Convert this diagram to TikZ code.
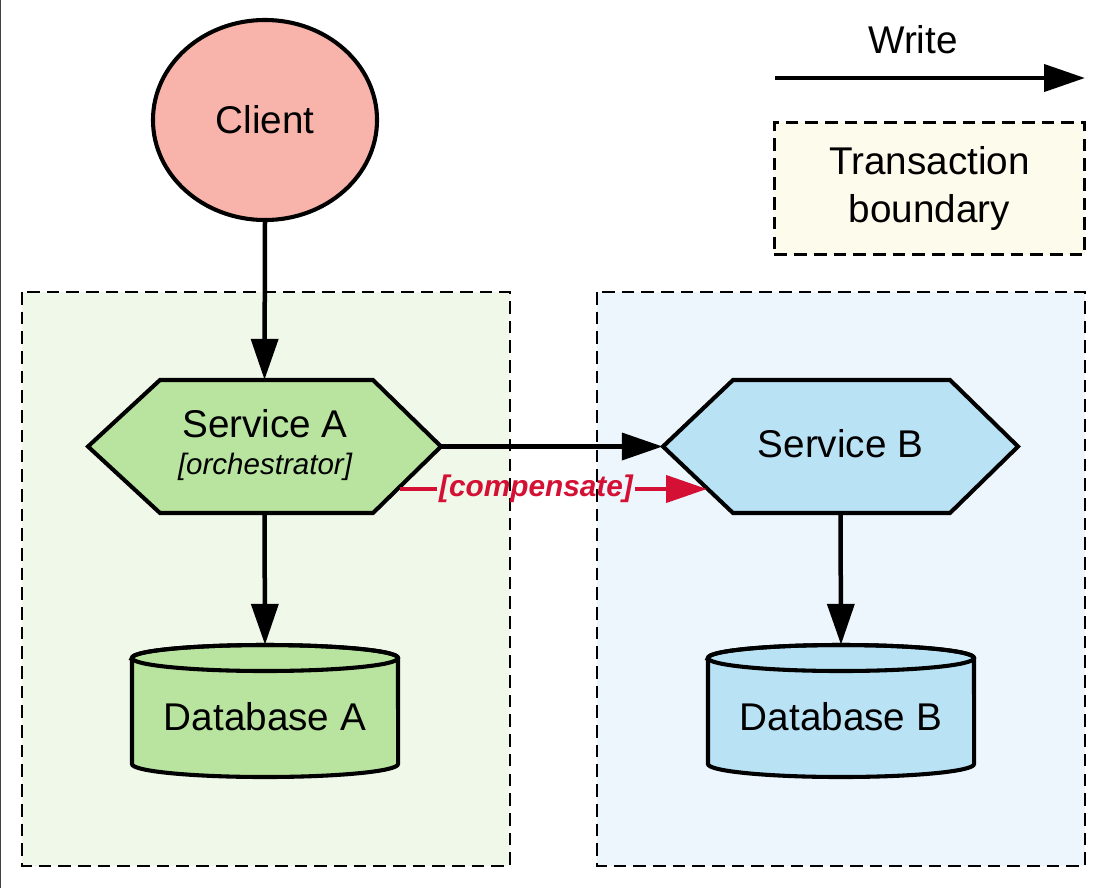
\documentclass[tikz,border=0pt]{standalone}
\usepackage{fontspec}
\setmainfont{Liberation Sans}
\usetikzlibrary{arrows.meta,shapes.geometric}
\definecolor{clientfill}{RGB}{248,180,170}
\definecolor{greenfill}{RGB}{185,228,160}
\definecolor{bluefill}{RGB}{185,226,245}
\definecolor{greenbg}{RGB}{240,248,234}
\definecolor{bluebg}{RGB}{237,246,253}
\definecolor{creambg}{RGB}{253,251,236}
\definecolor{compred}{RGB}{212,16,52}
\tikzset{
  bigtext/.style={font=\fontsize{27.5}{34}\selectfont},
  smalltext/.style={font=\fontsize{21}{25}\selectfont\itshape},
  tbox/.style={draw=black, line width=1.8pt, dash pattern=on 9pt off 5pt},
  shapeline/.style={draw=black, line width=2.9pt, line join=miter},
  write/.style={line width=3.2pt, -{Triangle[length=29pt,width=19pt]}},
  comp/.style={draw=compred, line width=3.2pt},
  textnode/.style={inner sep=0pt, outer sep=0pt},
}
\begin{document}
\begin{tikzpicture}[x=0.025cm, y=-0.025cm]
\useasboundingbox (0,0) rectangle (1103,888);
\fill[white] (0,0) rectangle (1103,888);
\draw[black!75, line width=1.4pt] (0.5,0) -- (0.5,888);

% transaction boundaries
\draw[tbox, fill=greenbg] (22,292) rectangle (510,866);
\draw[tbox, fill=bluebg] (597,292) rectangle (1085,866);

% legend
\node[bigtext, textnode] (writelbl) at (913,40) {Write};
\coordinate (ws) at (775,78);
\coordinate (we) at (1085,78);
\draw[write] (ws) -- (we);
\node[tbox, fill=creambg, minimum width=7.75cm, minimum height=3.3cm, bigtext, align=center] (legend) at (929.5,188.5) {Transaction\\boundary};

% client
\node[ellipse, draw=black, line width=2.9pt, fill=clientfill, minimum width=5.6cm, minimum height=5cm, bigtext, inner sep=0pt] (client) at (265,120) {Client};

% Service A hexagon
\node[draw=none, minimum width=8.825cm, minimum height=3.325cm, inner sep=0pt] (sa) at (264.5,446.5) {};
\draw[shapeline, fill=greenfill] (88,446.5) -- (160,380) -- (373,380) -- (441,446.5) -- (373,513) -- (160,513) -- cycle;
\node[bigtext, textnode] (satext) at (265,424) {Service A};
\node[smalltext, textnode] (saorch) at (265,467) {[orchestrator]};

% Service B hexagon
\node[draw=none, minimum width=8.875cm, minimum height=3.325cm, inner sep=0pt] (sb) at (840.5,446.5) {};
\draw[shapeline, fill=bluefill] (663,446.5) -- (733,380) -- (950,380) -- (1018,446.5) -- (950,513) -- (733,513) -- cycle;
\node[bigtext, textnode] (sbtext) at (840.5,444) {Service B};

% Databases
\node[draw=none, minimum width=6.65cm, minimum height=3.3cm, inner sep=0pt] (dba) at (265,711) {};
\path[shapeline, fill=greenfill] (132,658) -- (132,764) arc (180:360:3.325cm and 0.325cm) -- (398,658) arc (0:180:3.325cm and 0.325cm) -- cycle;
\draw[shapeline] (265,658) ellipse (3.325cm and 0.325cm);
\node[bigtext, textnode] (dbatext) at (265,717) {Database A};

\node[draw=none, minimum width=6.65cm, minimum height=3.3cm, inner sep=0pt] (dbb) at (841,711) {};
\path[shapeline, fill=bluefill] (708,658) -- (708,764) arc (180:360:3.325cm and 0.325cm) -- (974,658) arc (0:180:3.325cm and 0.325cm) -- cycle;
\draw[shapeline] (841,658) ellipse (3.325cm and 0.325cm);
\node[bigtext, textnode] (dbbtext) at (841,717) {Database B};

% connectors
\draw[write] (client.south) -- (sa.north);
\draw[write] (sa.east) -- (sb.west);
\draw[write] (sa.south) -- (dba.north);
\draw[write] (sb.south) -- (dbb.north);

% compensate
\coordinate (c1) at (400,489);
\coordinate (c2) at (707,489);
\node[font=\fontsize{21.2}{25}\selectfont\bfseries\itshape, text=compred, inner sep=1.5pt] (comp) at (536,489) {[compensate]};
\draw[comp] (c1) -- (comp.west);
\draw[comp, -{Triangle[length=29pt,width=19pt]}] (comp.east) -- (c2);
\end{tikzpicture}
\end{document}
